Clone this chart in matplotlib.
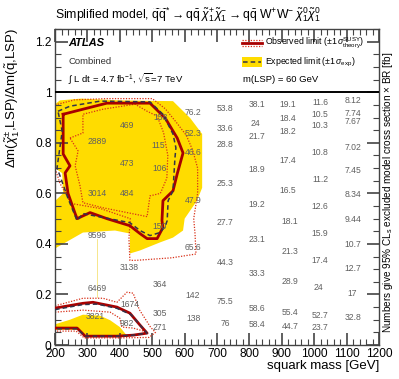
import numpy as np
import matplotlib
matplotlib.use("Agg")
import matplotlib.pyplot as plt
from matplotlib.patches import Rectangle

plt.rcParams['font.family'] = ['Liberation Sans', 'DejaVu Sans']
plt.rcParams['mathtext.fontset'] = 'custom'
plt.rcParams['mathtext.rm'] = 'Liberation Sans'
plt.rcParams['mathtext.it'] = 'Liberation Sans:italic'
plt.rcParams['mathtext.bf'] = 'Liberation Sans:bold'

# ==========================================
# Data: excluded cross section x BR [fb] per model point
# ==========================================

num_x = [626, 422, 330, 524, 626, 518, 626, 422, 524, 330, 422, 626,
         725, 823, 919, 1018, 1120, 817, 919, 1018, 1120, 1120, 1018,
         725, 919, 823, 725, 1120, 1018, 919, 823, 1120, 1018, 725,
         919, 1120, 823, 1018,
         725, 925, 1120, 1018, 823, 1120, 925, 725, 1018, 1120, 823,
         925, 1012, 1117, 725, 823, 925, 1018, 1120, 725, 823, 925, 1018,
         524, 330, 626, 428, 524, 330, 626, 431, 323, 524, 626, 422, 524]
num_y = [0.92, 0.87, 0.807, 0.90, 0.835, 0.79, 0.76, 0.72, 0.70, 0.60, 0.60, 0.57,
         0.937, 0.95, 0.953, 0.96, 0.968, 0.878, 0.898, 0.913, 0.917, 0.885, 0.87,
         0.858, 0.846, 0.827, 0.795, 0.783, 0.76, 0.732, 0.693, 0.689, 0.654, 0.638,
         0.61, 0.595, 0.555, 0.547,
         0.484, 0.488, 0.496, 0.441, 0.417, 0.398, 0.37, 0.327, 0.335, 0.303, 0.283,
         0.252, 0.228, 0.205, 0.173, 0.146, 0.13, 0.118, 0.11, 0.087, 0.083, 0.075, 0.071,
         0.468, 0.433, 0.386, 0.307, 0.24, 0.224, 0.197, 0.161, 0.114, 0.126, 0.106, 0.087, 0.071]
num_txt = ["76.2", "469", "2889", "158", "52.3", "115", "46.6", "473", "106", "3014", "484", "47.9",
           "53.8", "38.1", "19.1", "11.6", "8.12", "24", "18.4", "10.5", "7.74", "7.67", "10.3",
           "33.6", "18.2", "21.7", "28.8", "7.02", "10.8", "17.4", "18.9", "7.45", "11.2", "25.3",
           "16.5", "8.34", "19.2", "12.6",
           "27.7", "18.1", "9.44", "15.9", "23.1", "10.7", "21.3", "44.3", "17.4", "12.7", "33.3",
           "28.9", "24", "17", "75.5", "58.6", "55.4", "52.7", "32.8", "76", "58.4", "44.7", "23.7",
           "150", "9596", "65.6", "3138", "364", "6469", "142", "1674", "3821", "305", "138", "982", "271"]

# ==========================================
# Contours
# ==========================================

# expected +-1 sigma band (upper region)
band_up_x = [200, 215, 280, 400, 564, 617, 654, 654, 638, 600, 595, 564, 524, 462, 431,
             431, 385, 286, 200, 200, 225, 222, 200]
band_up_y = [0.953, 0.968, 0.975, 0.968, 0.965, 0.898, 0.835, 0.622, 0.571, 0.50, 0.453,
             0.425, 0.406, 0.374, 0.362, 0.441, 0.453, 0.445, 0.382, 0.57, 0.60, 0.68, 0.70]
# expected +-1 sigma band (lower region)
band_lo_x = [200, 246, 286, 339, 370, 400, 420, 300, 268, 200]
band_lo_y = [0.082, 0.100, 0.120, 0.116, 0.098, 0.071, 0.04, 0.036, 0.060, 0.060]

# observed limit
obs_up_x = [225, 286, 360, 493, 540, 577, 595, 577, 564, 533, 530, 533, 515, 484, 462,
            431, 360, 308, 268, 262, 240, 231, 246, 225, 225, 225]
obs_up_y = [0.913, 0.933, 0.957, 0.957, 0.898, 0.819, 0.76, 0.677, 0.61, 0.571, 0.492,
            0.465, 0.421, 0.421, 0.441, 0.472, 0.50, 0.524, 0.50, 0.52, 0.60, 0.681, 0.709,
            0.756, 0.835, 0.913]
obs_lo_x = [200, 286, 317, 391, 431, 462, 484, 441, 391, 293, 268, 200]
obs_lo_y = [0.146, 0.165, 0.169, 0.15, 0.126, 0.079, 0.047, 0.039, 0.035, 0.035, 0.067, 0.067]

# expected limit
exp_up_x = [209, 246, 339, 493, 533, 564, 573, 570, 564, 549, 546, 540, 524, 493, 462,
            431, 286, 268, 240, 215, 206, 222, 209]
exp_up_y = [0.925, 0.945, 0.965, 0.962, 0.913, 0.835, 0.78, 0.74, 0.61, 0.571, 0.492,
            0.47, 0.445, 0.433, 0.453, 0.484, 0.52, 0.492, 0.58, 0.67, 0.70, 0.846, 0.925]
exp_lo_x = [200, 286, 330, 391, 435, 465, 484, 441, 391, 293, 268, 200]
exp_lo_y = [0.14, 0.16, 0.162, 0.145, 0.12, 0.075, 0.047, 0.039, 0.035, 0.035, 0.064, 0.064]

# observed +-1 sigma theory
obs_hi_up_x = [200, 260, 360, 500, 540, 575, 605, 625, 640, 640, 628, 632, 635, 560,
               450, 431, 428, 432, 340, 250, 215, 200]
obs_hi_up_y = [0.95, 0.97, 0.975, 0.975, 0.935, 0.88, 0.83, 0.77, 0.70, 0.60, 0.50,
               0.44, 0.36, 0.345, 0.335, 0.335, 0.42, 0.50, 0.54, 0.56, 0.64, 0.70]
obs_lo_up_x = [246, 286, 286, 348, 447, 484, 515, 535, 548, 545, 525, 493, 484, 422,
               348, 286, 277, 262, 271, 246]
obs_lo_up_y = [0.819, 0.839, 0.913, 0.933, 0.953, 0.925, 0.906, 0.84, 0.75, 0.66, 0.60,
               0.59, 0.508, 0.524, 0.543, 0.563, 0.63, 0.709, 0.768, 0.819]
obs_hi_lo_x = [200, 286, 348, 391, 422, 441, 460, 495, 510, 490, 400, 290, 265, 200]
obs_hi_lo_y = [0.155, 0.185, 0.185, 0.169, 0.209, 0.205, 0.14, 0.07, 0.05, 0.03, 0.028,
               0.028, 0.055, 0.055]
obs_lo_lo_x = [200, 286, 370, 400, 406, 441, 484]
obs_lo_lo_y = [0.13, 0.138, 0.13, 0.106, 0.071, 0.067, 0.051]

# ==========================================
# Figure
# ==========================================

fig = plt.figure(figsize=(3.99, 3.79), dpi=100)
ax = fig.add_axes([0.138, 0.0897, 0.812, 0.8335])

yellow = "#ffdc00"
dark_red = "#a80000"
dot_red = "#d83018"

ax.fill(band_up_x, band_up_y, color=yellow, lw=0, zorder=1)
ax.fill(band_lo_x, band_lo_y, color=yellow, lw=0, zorder=1)
ax.plot([330, 330], [0.19, 0.42], color="#f5e27a", lw=0.6, zorder=1)

for xs, ys in [(obs_hi_up_x, obs_hi_up_y), (obs_lo_up_x, obs_lo_up_y),
               (obs_hi_lo_x, obs_hi_lo_y), (obs_lo_lo_x, obs_lo_lo_y)]:
    ax.plot(xs, ys, color=dot_red, lw=0.9, ls=(0, (1, 1.2)), zorder=2)

ax.plot(obs_up_x, obs_up_y, color=dark_red, lw=2.0, zorder=3)
ax.plot(obs_lo_x, obs_lo_y, color=dark_red, lw=2.0, zorder=3)
ax.plot(exp_up_x, exp_up_y, color="#33334a", lw=1.1, ls=(0, (3, 2)), zorder=4)
ax.plot(exp_lo_x, exp_lo_y, color="#33334a", lw=1.1, ls=(0, (3, 2)), zorder=4)

for x, y, t in zip(num_x, num_y, num_txt):
    ax.text(x, y, t, fontsize=6.2, color="#606060", ha="center", va="center", zorder=5)

ax.axhline(1.0, color="black", lw=1.4, zorder=6)

ax.set_xlim(200, 1200)
ax.set_ylim(0, 1.25)
ax.set_xticks(np.arange(200, 1201, 100))
ax.set_xticks(np.arange(200, 1201, 20), minor=True)
ax.set_yticks([0, 0.2, 0.4, 0.6, 0.8, 1.0, 1.2])
ax.set_yticklabels(["0", "0.2", "0.4", "0.6", "0.8", "1", "1.2"])
ax.set_yticks(np.arange(0, 1.251, 0.05), minor=True)
ax.tick_params(which="both", direction="in", top=True, right=True, labelsize=8.6,
               color="#444444", pad=2.5)
ax.tick_params(which="major", length=9, width=1.2)
ax.tick_params(which="minor", length=4.5, width=0.8)
for s in ax.spines.values():
    s.set_linewidth(1.0)
    s.set_color("#444444")

# ==========================================
# Legend and labels
# ==========================================

tr = ax.transAxes
ax.plot([0.577, 0.639], [0.956, 0.956], color=dark_red, lw=2.0, transform=tr, zorder=7)
ax.plot([0.577, 0.639], [0.966, 0.966], color=dot_red, lw=0.9, ls=(0, (1, 1.2)), transform=tr, zorder=7)
ax.plot([0.577, 0.639], [0.946, 0.946], color=dot_red, lw=0.9, ls=(0, (1, 1.2)), transform=tr, zorder=7)
ax.text(0.648, 0.956, r"Observed limit ($\pm1\,\sigma^{\rm SUSY}_{\rm theory}$)",
        transform=tr, fontsize=6.3, va="center", ha="left", zorder=7)
ax.add_patch(Rectangle((0.577, 0.880), 0.062, 0.032, color=yellow, transform=tr, zorder=7, lw=0))
ax.plot([0.580, 0.636], [0.896, 0.896], color="#33334a", lw=1.1, ls=(0, (3, 2)), transform=tr, zorder=8)
ax.text(0.648, 0.896, r"Expected limit ($\pm1\,\sigma_{\rm exp}$)",
        transform=tr, fontsize=6.3, va="center", ha="left", zorder=7)
ax.text(0.58, 0.839, "m(LSP) = 60 GeV", transform=tr, fontsize=6.8, va="center", ha="left")

ax.text(0.04, 0.956, "ATLAS", transform=tr, fontsize=8, fontweight="bold", style="italic",
        va="center", ha="left")
ax.text(0.04, 0.896, "Combined", transform=tr, fontsize=6.8, va="center", ha="left", color="#333333")
ax.text(0.04, 0.842, r"$\int$ L dt = 4.7 fb$^{-1}$, $\sqrt{\rm s}$=7 TeV", transform=tr,
        fontsize=6.8, va="center", ha="left")

fig.text(0.138, 0.962,
         r"Simplified model, $\widetilde{\rm q}\widetilde{\rm q}^{*}\rightarrow {\rm q}\bar{\rm q}\;"
         r"\tilde{\chi}^{+}_{1}\tilde{\chi}^{-}_{1}\rightarrow {\rm q}\bar{\rm q}\;{\rm W^{+}W^{-}}\;"
         r"\tilde{\chi}^{0}_{1}\tilde{\chi}^{0}_{1}$",
         fontsize=8.8, ha="left", va="center")

fig.text(0.952, 0.034, "squark mass [GeV]", fontsize=9.5, ha="right", va="center")
fig.text(0.03, 0.925,
         r"$\Delta$m($\tilde{\chi}^{\pm}_{1}$,LSP)/$\Delta$m($\tilde{\rm q}$,LSP)",
         fontsize=9.5, rotation=90, ha="center", va="top")
fig.text(0.972, 0.493,
         r"Numbers give 95% CL$_{\rm s}$ excluded model cross section $\times$ BR [fb]",
         fontsize=7.2, rotation=90, ha="center", va="center")

fig.savefig("out.png", dpi=100)
